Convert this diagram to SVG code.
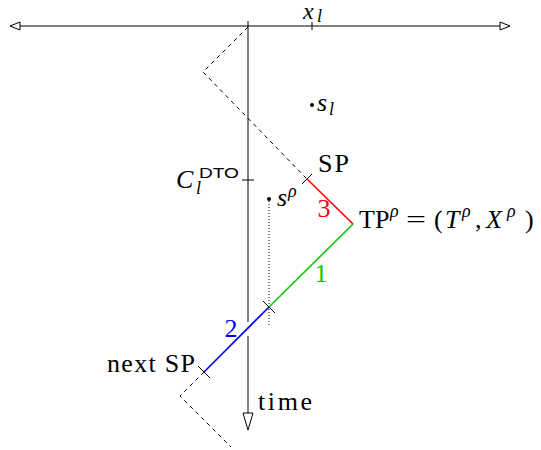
<svg xmlns="http://www.w3.org/2000/svg" width="541" height="450" viewBox="0 0 541 450">
<style>
  .ax { stroke: #000; stroke-width: 1; fill: none; }
  .dash { stroke: #000; stroke-width: 1; fill: none; stroke-dasharray: 4 4; }
  .dot { stroke: #000; stroke-width: 1; fill: none; stroke-dasharray: 1 2; }
  .tick { stroke: #000; stroke-width: 1; }
  .head { fill: #fff; stroke: #000; stroke-width: 1; }
</style>
<rect width="541" height="450" fill="#fff"/>
<g id="connectors">
  <line class="ax" x1="18" y1="26" x2="502" y2="26"/>
  <polygon class="head" points="10,26 20,22 20,30"/>
  <polygon class="head" points="510,26 500,22 500,30"/>
  <line class="tick" x1="312" y1="22" x2="312" y2="30"/>
  <line class="ax" x1="248" y1="21" x2="248" y2="322"/>
  <line class="ax" x1="248" y1="336" x2="248" y2="414"/>
  <polygon class="head" points="248,430 243,413 253,413"/>
  <line class="tick" x1="242" y1="180" x2="254" y2="180"/>
  <polyline class="dash" points="248,27 203,72 307,179"/>
  <polyline class="dash" points="204,372 180,396 231,447"/>
  <line class="dot" x1="269" y1="201" x2="269" y2="326"/>
  <line x1="307" y1="179" x2="353" y2="224" stroke="#ff0000" stroke-width="1.6"/>
  <line x1="353" y1="224" x2="269" y2="307" stroke="#00cc00" stroke-width="1.6"/>
  <line x1="269" y1="307" x2="204" y2="372" stroke="#0000ff" stroke-width="1.6"/>
  <line class="tick" x1="302" y1="184" x2="312" y2="174"/>
  <line class="tick" x1="263" y1="301" x2="275" y2="313"/>
  <line class="tick" x1="198" y1="366" x2="210" y2="378"/>
</g>
<g id="points">
  <circle cx="312" cy="105" r="2"/>
  <circle cx="269" cy="199" r="2"/>
</g>
<g id="labels" font-family="'Liberation Serif', 'Times New Roman', serif" font-size="26" fill="#000">
  <text x="303" y="19" font-size="24" font-style="italic">x</text>
  <text x="317" y="22" font-size="18" font-style="italic">l</text>

  <text x="317" y="111" font-style="italic">s</text>
  <text x="329" y="115" font-size="18" font-style="italic">l</text>

  <text x="277" y="206" font-style="italic">s</text>
  <text x="288" y="197" font-size="18" font-style="italic">ρ</text>

  <text x="176" y="188" font-style="italic">C</text>
  <text x="196" y="194" font-size="18" font-style="italic">l</text>
  <text x="199" y="178" font-family="'Liberation Sans', Arial, sans-serif" font-size="15" textLength="40" lengthAdjust="spacingAndGlyphs">DTO</text>

  <text x="318" y="172" textLength="31" lengthAdjust="spacing">SP</text>

  <text x="359" y="228">TP</text>
  <text x="390" y="217" font-size="18" font-style="italic">ρ</text>
  <text x="406" y="228" textLength="20" lengthAdjust="spacingAndGlyphs">=</text>
  <text x="434" y="228">(</text>
  <text x="445" y="228" font-style="italic">T</text>
  <text x="462" y="217" font-size="18" font-style="italic">ρ</text>
  <text x="475" y="228">,</text>
  <text x="486" y="228" font-style="italic">X</text>
  <text x="507" y="217" font-size="18" font-style="italic">ρ</text>
  <text x="525" y="228">)</text>

  <text x="107" y="372" textLength="88" lengthAdjust="spacing">next SP</text>
  <text x="258" y="410" textLength="54" lengthAdjust="spacing">time</text>

  <text x="324" y="217" text-anchor="middle" fill="#ff0000">3</text>
  <text x="321" y="282" text-anchor="middle" fill="#00cc00">1</text>
  <text x="231" y="337" text-anchor="middle" fill="#0000ff">2</text>
</g>
</svg>
